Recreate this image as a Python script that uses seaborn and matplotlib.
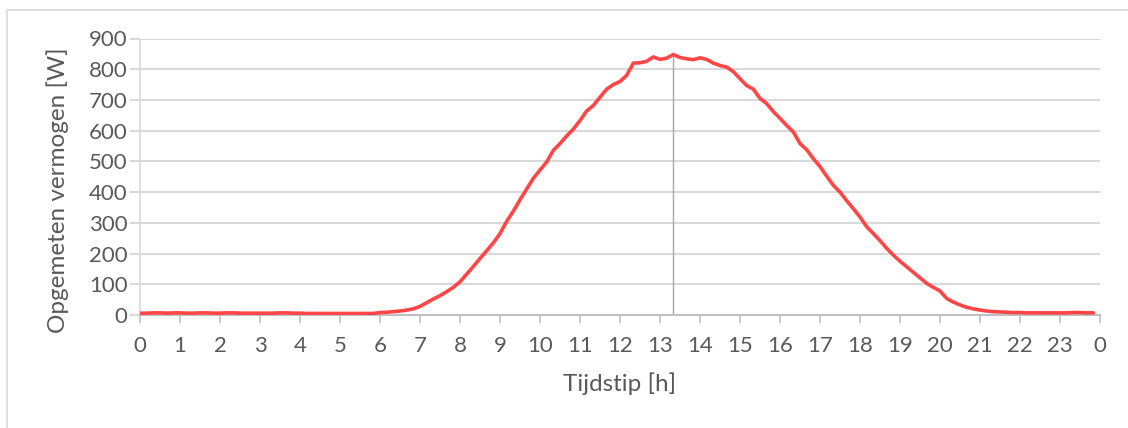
import numpy as np
import pandas as pd
import matplotlib
matplotlib.use("Agg")
import matplotlib.pyplot as plt
import seaborn as sns
from matplotlib.patches import Rectangle

# ---- data (10-minute samples, W) ----
power_by_hour = [
    [6, 6, 7, 7, 6, 7],            # 0
    [7, 6, 6, 7, 7, 6],            # 1
    [6, 7, 7, 6, 6, 6],            # 2
    [6, 6, 6, 7, 7, 6],            # 3
    [6, 5, 5, 5, 5, 5],            # 4
    [5, 5, 5, 5, 5, 5],            # 5
    [8, 9, 11, 13, 16, 20],        # 6
    [28, 40, 52, 63, 76, 90],      # 7
    [108, 133, 158, 184, 209, 235],  # 8
    [265, 305, 338, 375, 410, 445],  # 9
    [472, 498, 536, 558, 583, 605],  # 10
    [633, 664, 682, 709, 735, 750],  # 11
    [760, 780, 820, 821, 826, 840],  # 12
    [832, 836, 848, 838, 834, 831],  # 13
    [837, 832, 820, 812, 807, 792],  # 14
    [769, 747, 735, 705, 688, 662],  # 15
    [640, 617, 596, 558, 538, 509],  # 16
    [483, 452, 422, 400, 372, 346],  # 17
    [319, 287, 265, 242, 217, 195],  # 18
    [175, 157, 139, 121, 103, 90],   # 19
    [78, 54, 42, 33, 25, 20],        # 20
    [16, 13, 11, 10, 9, 8],          # 21
    [8, 7, 7, 7, 7, 7],              # 22
    [7, 7, 8, 8, 7, 7],              # 23
]
hours = list(range(24))
minutes = [0, 10, 20, 30, 40, 50]
x_tick_labels = [str(h) for h in range(24)] + ["0"]
y_ticks = [0, 100, 200, 300, 400, 500, 600, 700, 800, 900]

rows = []
for h, vals in zip(hours, power_by_hour):
    for m, v in zip(minutes, vals):
        rows.append({"t": h + m / 60.0, "P": v})
df = pd.DataFrame(rows)

sns.set_theme(style="white")
plt.rcParams["font.family"] = ["Lato", "DejaVu Sans"]

W, H = 1128, 428
fig = plt.figure(figsize=(W / 100, H / 100), dpi=100)
ax = fig.add_axes([140 / W, 1 - 315 / H, 960 / W, (315 - 38.5) / H])

# figure frame
fig.patches.append(Rectangle((7 / W, -0.2), 1.2, (H - 10) / H + 0.2,
                             transform=fig.transFigure, fill=False,
                             edgecolor="#d9d9d9", linewidth=1.2, zorder=0))

grid_c = "#d9d9d9"
text_c = "#595959"

ax.set_ylim(0, 900)
ax.set_xlim(0, 24)
ax.set_yticks(y_ticks)
ax.set_xticks(range(25))
ax.set_xticklabels(x_tick_labels)
ax.yaxis.grid(True, color=grid_c, linewidth=1.5)
ax.xaxis.grid(False)
ax.set_axisbelow(True)

# peak marker
peak_idx = df["P"].idxmax()
ax.axvline(df.loc[peak_idx, "t"], ymin=0, ymax=df.loc[peak_idx, "P"] / 900,
           color="#a6a6a6", linewidth=1.0, zorder=1)

sns.lineplot(data=df, x="t", y="P", ax=ax, color="#ff4545", linewidth=2.6,
             zorder=3)

for s in ["top", "right"]:
    ax.spines[s].set_visible(False)
ax.spines["left"].set_color(grid_c)
ax.spines["left"].set_linewidth(1.2)
ax.spines["bottom"].set_color("#bfbfbf")
ax.spines["bottom"].set_linewidth(1.5)

ax.tick_params(axis="x", direction="out", length=6, width=1.2, color="#bfbfbf",
               labelcolor=text_c, labelsize=16, pad=9, bottom=True)
ax.tick_params(axis="y", direction="out", length=7, width=1.5, color=grid_c,
               labelcolor=text_c, labelsize=16, pad=2, left=True)

ax.set_xlabel("Tijdstip [h]", color=text_c, fontsize=17.5, labelpad=12)
ax.set_ylabel("Opgemeten vermogen [W]", color=text_c, fontsize=17.5)
ax.yaxis.set_label_coords(-0.074, 0.45)

fig.savefig("out.png", dpi=100)
